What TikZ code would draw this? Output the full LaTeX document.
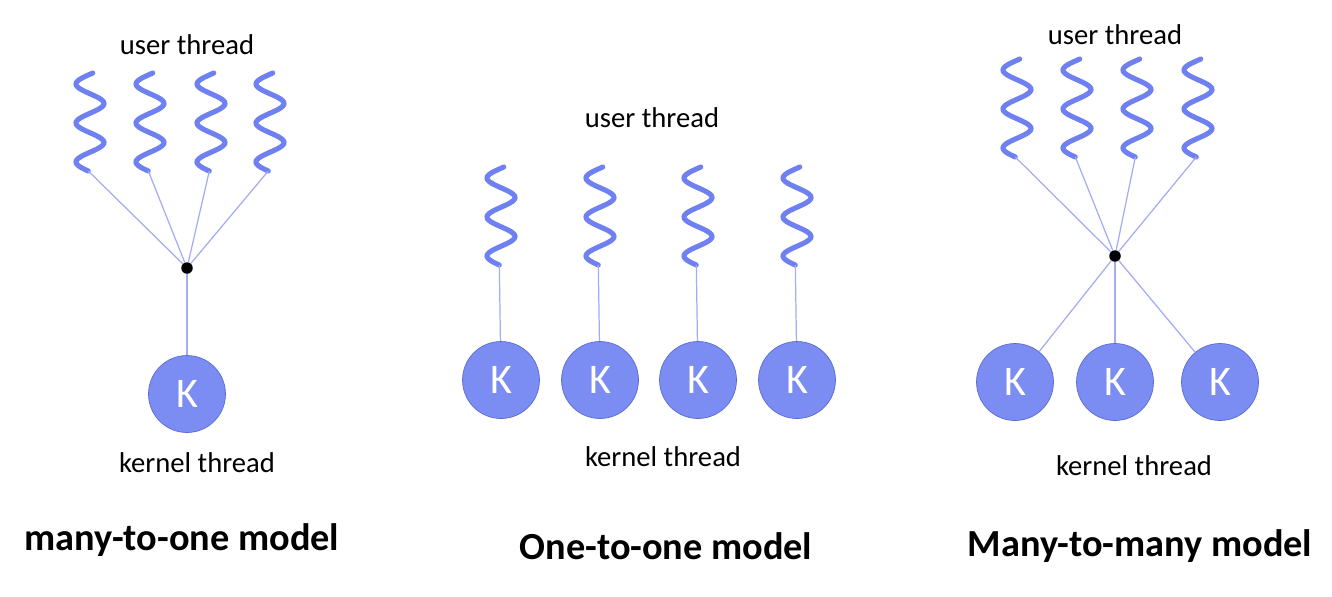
\documentclass[tikz,border=0pt]{standalone}
\usepackage{fontspec}
\setmainfont{Carlito}
\usepackage{tikz}
\usetikzlibrary{positioning}
\definecolor{wavy}{HTML}{6F80F0}
\definecolor{kfill}{HTML}{7B8CF2}
\definecolor{kedge}{HTML}{5A6AD2}
\definecolor{thin}{HTML}{A3ACF2}

\begin{document}
\begin{tikzpicture}[
    x=0.02cm, y=-0.02cm,
    label/.style={font=\fontsize{16.3}{18}\selectfont},
    title/.style={font=\fontsize{21.8}{24}\selectfont\bfseries},
    kthread/.style={circle, draw=kedge, fill=kfill, minimum size=1.54cm, inner sep=0pt, text=white, font=\fontsize{24}{26}\selectfont},
    hub/.style={circle, fill=black, minimum size=0.23cm, inner sep=0pt},
    link/.style={draw=thin, line width=0.7pt},
    uthread/.pic={
      \draw[wavy, line width=2.9pt, line cap=round]
        plot[domain=-11:87, samples=90, smooth] ({-14*cos(180*\x/19.5)}, \x);
      \coordinate (-end) at ({-14*cos(180*87/19.5)}, 87);
    }
  ]
    \useasboundingbox (0,0) rectangle (1332,596);

    % many-to-one
    \node[label] (ut1) at (187,45) {user thread};
    \foreach \cx [count=\i] in {90,150,211,270}
      \pic (a\i) at (\cx,84) {uthread};
    \node[hub] (hub1) at (187,268) {};
    \node[kthread] (k1) at (187,394) {K};
    \node[label] (kt1) at (197,463) {kernel thread};
    \node[title] (t1) at (182,540) {many-to-one model};
    \foreach \i in {1,...,4}
      \draw[link] (a\i-end) -- (hub1);
    \draw[link] (hub1) -- (k1);

    % one-to-one
    \node[label] (ut2) at (652,118) {user thread};
    \foreach \cx [count=\i] in {501,600,698,797} {
      \pic (b\i) at (\cx,178) {uthread};
      \node[kthread] (kb\i) at (\cx,380) {K};
      \draw[link] (b\i-end) -- (kb\i);
    }
    \node[label] (kt2) at (663,457) {kernel thread};
    \node[title] (t2) at (666,546) {One-to-one model};

    % many-to-many
    \node[label] (ut3) at (1115,35) {user thread};
    \foreach \cx [count=\i] in {1017,1077,1137,1198}
      \pic (c\i) at (\cx,70) {uthread};
    \node[hub] (hub3) at (1115,256) {};
    \node[kthread] (kc1) at (1015,382) {K};
    \node[kthread] (kc2) at (1115,382) {K};
    \node[kthread] (kc3) at (1220,382) {K};
    \node[label] (kt3) at (1134,466) {kernel thread};
    \node[title] (t3) at (1140,546) {Many-to-many model};
    \foreach \i in {1,...,4}
      \draw[link] (c\i-end) -- (hub3);
    \foreach \i in {1,2,3}
      \draw[link] (hub3) -- (kc\i);
  \end{tikzpicture}
\end{document}
